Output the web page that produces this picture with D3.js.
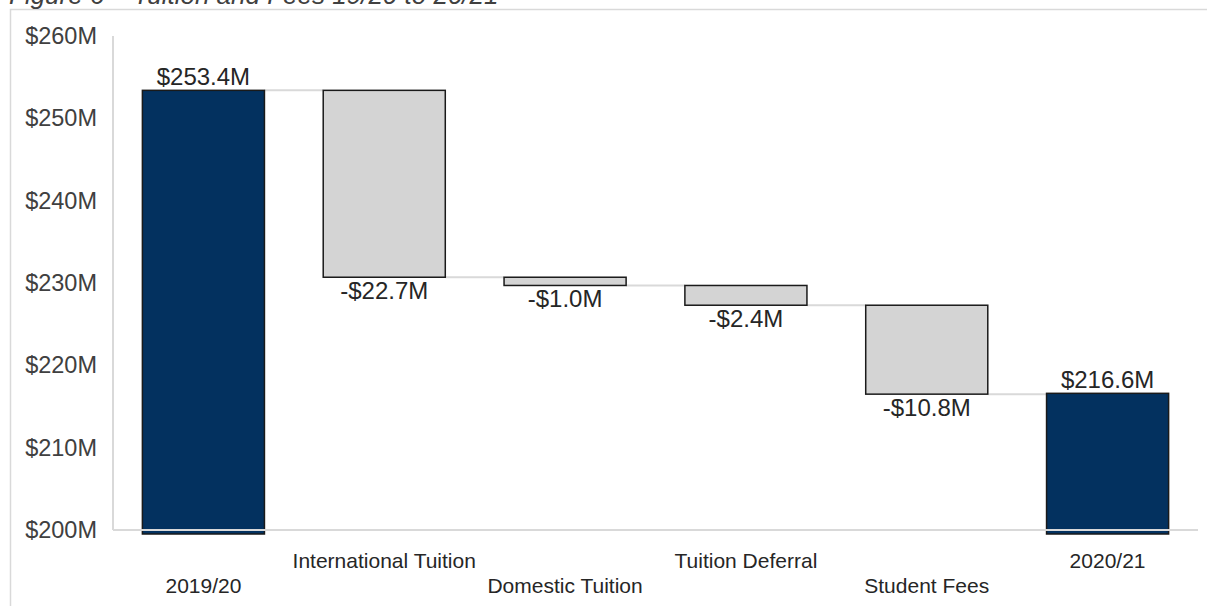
<!DOCTYPE html>
<html>
<head>
<meta charset="utf-8">
<script src="https://cdn.jsdelivr.net/npm/d3@7/dist/d3.min.js"></script>
<style>
  html, body { margin: 0; padding: 0; background: #ffffff; overflow: hidden; }
  svg { display: block; font-family: "Liberation Sans", Arial, sans-serif; }
</style>
</head>
<body>
<svg id="chart" width="1207" height="606"></svg>
<script>
// Waterfall: tuition and fees, 2019/20 to 2020/21 ($ millions)
const categories = ["2019/20", "International Tuition", "Domestic Tuition", "Tuition Deferral", "Student Fees", "2020/21"];
const changes    = [253.4, -22.7, -1.0, -2.4, -10.8, 216.6];
const isTotal    = [true, false, false, false, false, true];
const valueLabels = ["$253.4M", "-$22.7M", "-$1.0M", "-$2.4M", "-$10.8M", "$216.6M"];
const yTicks     = [200, 210, 220, 230, 240, 250, 260];

const svg = d3.select("#chart");
const W = 1207, H = 606;
const plot = { left: 113, right: 1198, top: 36, bottom: 530 };

// outer frame (extends past the visible edge)
svg.append("rect")
  .attr("x", 10.5).attr("y", 9.5)
  .attr("width", W + 20).attr("height", H + 20)
  .attr("fill", "none").attr("stroke", "#d9d9d9").attr("stroke-width", 1.5);

// figure caption, clipped by the top edge
svg.append("text")
  .attr("x", 9).attr("y", 4)
  .attr("font-size", 26).attr("font-style", "italic")
  .attr("fill", "#404040")
  .text("Figure 6 – Tuition and Fees 19/20 to 20/21");

// running totals -> bar extents
const bars = [];
let running = 0;
changes.forEach((v, i) => {
  if (isTotal[i]) {
    bars.push({ cat: categories[i], lo: 200, hi: v, total: true, label: valueLabels[i] });
    running = v;
  } else {
    const start = running, end = running + v;
    bars.push({ cat: categories[i], lo: Math.min(start, end), hi: Math.max(start, end), total: false, label: valueLabels[i], end });
    running = end;
  }
});

const x = d3.scaleBand()
  .domain(categories)
  .range([plot.left, plot.right])
  .paddingInner(0.325)
  .paddingOuter(0.1625);

const y = d3.scaleLinear()
  .domain([200, 260])
  .range([plot.bottom, plot.top]);

// y axis labels
const yAxis = d3.axisLeft(y)
  .tickValues(yTicks)
  .tickSize(0)
  .tickPadding(16)
  .tickFormat(d => "$" + d + "M");
const gy = svg.append("g").attr("transform", `translate(${plot.left},0)`).call(yAxis);
gy.select(".domain").remove();
gy.selectAll("text")
  .attr("font-size", 23.5).attr("fill", "#404040")
  .attr("font-family", "Liberation Sans, Arial, sans-serif");

// left axis line
svg.append("line")
  .attr("x1", plot.left).attr("x2", plot.left)
  .attr("y1", y(260)).attr("y2", y(200))
  .attr("stroke", "#d9d9d9").attr("stroke-width", 2);

// connectors between consecutive bars
for (let i = 0; i < bars.length - 1; i++) {
  const b = bars[i];
  const level = b.total ? b.hi : b.end;
  svg.append("line")
    .attr("x1", x(b.cat) + x.bandwidth())
    .attr("x2", x(bars[i + 1].cat))
    .attr("y1", y(level)).attr("y2", y(level))
    .attr("stroke", "#d9d9d9").attr("stroke-width", 2);
}

// bars
svg.append("g").selectAll("rect")
  .data(bars)
  .join("rect")
  .attr("x", d => x(d.cat))
  .attr("width", x.bandwidth())
  .attr("y", d => y(d.hi))
  .attr("height", d => (d.total ? y(d.lo) + 4 : y(d.lo)) - y(d.hi))
  .attr("fill", d => d.total ? "#03315f" : "#d4d4d4")
  .attr("stroke", "#1a1a1a")
  .attr("stroke-width", 1.5);

// x axis line drawn over the bar bases
svg.append("line")
  .attr("x1", plot.left).attr("x2", plot.right)
  .attr("y1", y(200)).attr("y2", y(200))
  .attr("stroke", "#d9d9d9").attr("stroke-width", 2);

// value labels
svg.append("g").selectAll("text")
  .data(bars)
  .join("text")
  .attr("x", d => x(d.cat) + x.bandwidth() / 2)
  .attr("y", d => d.total ? y(d.hi) - 5 : y(d.lo) + 22)
  .attr("text-anchor", "middle")
  .attr("font-size", 24)
  .attr("fill", "#262626")
  .text(d => d.label);

// category labels, staggered on two rows
svg.append("g").selectAll("text")
  .data(categories)
  .join("text")
  .attr("x", d => x(d) + x.bandwidth() / 2)
  .attr("y", (d, i) => i % 2 === 0 ? 593 : 568)
  .attr("text-anchor", "middle")
  .attr("font-size", 21)
  .attr("fill", "#262626")
  .text(d => d);
</script>
</body>
</html>
